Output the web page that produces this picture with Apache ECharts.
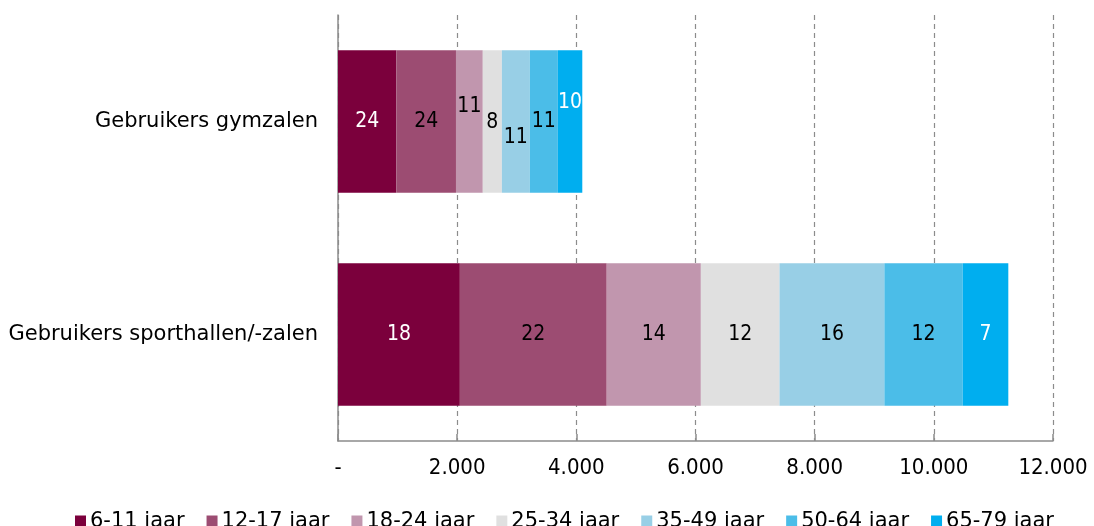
<!DOCTYPE html>
<html>
<head>
<meta charset="utf-8">
<script src="https://cdn.jsdelivr.net/npm/echarts@6/dist/echarts.min.js"></script>
<style>
html,body{margin:0;padding:0;background:#fff;}
#chart{width:1094px;height:526px;}
</style>
</head>
<body>
<div id="chart"></div>
<script>
// ---- data ----
var categories = ['Gebruikers gymzalen', 'Gebruikers sporthallen/-zalen'];
var ageGroups = ['6-11 jaar', '12-17 jaar', '18-24 jaar', '25-34 jaar', '35-49 jaar', '50-64 jaar', '65-79 jaar'];
// absolute numbers per age group: [gymzalen, sporthallen]
var v6_11  = [980, 2045];
var v12_17 = [1000, 2465];
var v18_24 = [450, 1580];
var v25_34 = [320, 1320];
var v35_49 = [470, 1760];
var v50_64 = [470, 1315];
var v65_79 = [410, 765];
// percentage labels shown in the bars
var p6_11  = [24, 18];
var p12_17 = [24, 22];
var p18_24 = [11, 14];
var p25_34 = [8, 12];
var p35_49 = [11, 16];
var p50_64 = [11, 12];
var p65_79 = [10, 7];
var xTicks = ['-', '2.000', '4.000', '6.000', '8.000', '10.000', '12.000'];

var values = [v6_11, v12_17, v18_24, v25_34, v35_49, v50_64, v65_79];
var pcts = [p6_11, p12_17, p18_24, p25_34, p35_49, p50_64, p65_79];

// ---- styles ----
var colors = ['#7b003c', '#9c4c72', '#c196ae', '#e0e0e0', '#98cfe6', '#4bbde8', '#00aeef'];
var labelColors = [
  ['#ffffff', '#ffffff'],
  ['#000000', '#000000'],
  ['#000000', '#000000'],
  ['#000000', '#000000'],
  ['#000000', '#000000'],
  ['#000000', '#000000'],
  ['#ffffff', '#ffffff']
];
// vertical nudges for labels in the narrow gymzalen bar
var gymNudge = [0, 0, -15, 1, 16, 0, -19];

var NUMFONT = 'DejaVu Sans Condensed';
var TXTFONT = 'DejaVu Sans';
var FS = 21;

var series = ageGroups.map(function (name, s) {
  return {
    name: name,
    type: 'bar',
    stack: 'total',
    barCategoryGap: '33%',
    itemStyle: { color: colors[s] },
    emphasis: { disabled: true },
    data: values[s].map(function (v, c) {
      return {
        value: v,
        label: {
          show: true,
          position: 'inside',
          formatter: String(pcts[s][c]),
          color: labelColors[s][c],
          fontFamily: NUMFONT,
          fontSize: FS,
          offset: [0, c === 0 ? gymNudge[s] : 0]
        }
      };
    })
  };
});

var chart = echarts.init(document.getElementById('chart'), null, { renderer: 'canvas' });
chart.setOption({
  animation: false,
  textStyle: { fontFamily: TXTFONT },
  grid: { left: 338, right: 41, top: 15, bottom: 85, containLabel: false },
  legend: {
    data: ageGroups,
    left: 70,
    top: 506,
    itemWidth: 11,
    itemHeight: 12,
    itemGap: 22,
    icon: 'rect',
    textStyle: { fontFamily: TXTFONT, fontSize: 21, color: '#000', padding: [0, 0, 0, -1] }
  },
  xAxis: {
    type: 'value',
    min: 0,
    max: 12000,
    interval: 2000,
    axisLine: { show: true, lineStyle: { color: '#8c8c8c', width: 1.5 } },
    axisTick: { show: true, inside: true, length: 7, lineStyle: { color: '#8c8c8c', width: 1.5 } },
    splitLine: { show: true, lineStyle: { color: '#8c8c8c', type: [5, 4], width: 1.2 } },
    axisLabel: {
      margin: 16,
      fontFamily: NUMFONT,
      fontSize: 22,
      color: '#000',
      formatter: function (v) { return xTicks[Math.round(v / 2000)]; }
    }
  },
  yAxis: {
    type: 'category',
    inverse: true,
    data: categories,
    axisLine: { show: true, lineStyle: { color: '#8c8c8c', width: 1.5 } },
    axisTick: { show: false },
    axisLabel: { margin: 20, fontFamily: TXTFONT, fontSize: FS, color: '#000' }
  },
  series: series
});
</script>
</body>
</html>
